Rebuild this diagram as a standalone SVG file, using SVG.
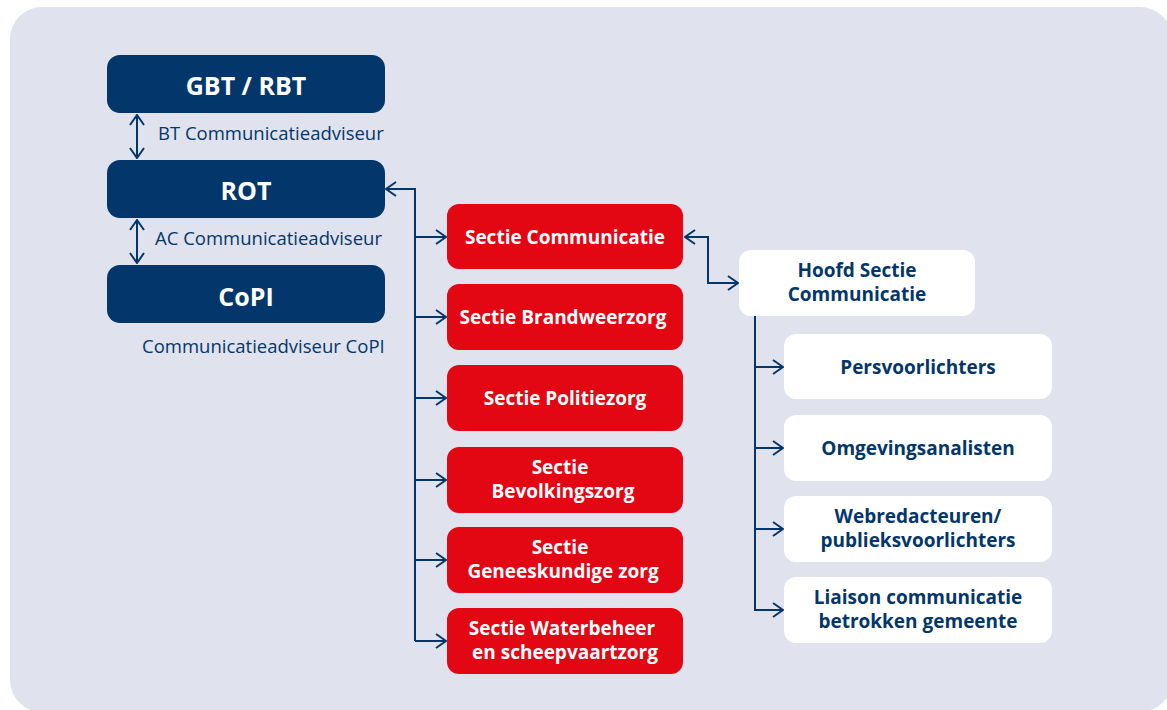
<svg xmlns="http://www.w3.org/2000/svg" width="1167" height="710" viewBox="0 0 1167 710">
<style>
.navy{fill:#03366b}
.red{fill:#e30613}
.white{fill:#ffffff}
.t{font-family:"Open Sans","Noto Sans","Liberation Sans",sans-serif;font-weight:700;text-anchor:middle;font-size:19px}
.big{font-size:25px}
.tw{fill:#ffffff}
.tn{fill:#03366b}
.lbl{font-family:"Open Sans","Noto Sans","Liberation Sans",sans-serif;font-weight:400;font-size:18.5px;fill:#03366b}
.ln{fill:none;stroke:#03366b;stroke-width:2}
</style>
<defs>
<marker id="ah" viewBox="0 0 12 16" refX="11" refY="8" markerWidth="12" markerHeight="16" markerUnits="userSpaceOnUse" orient="auto-start-reverse">
<path d="M1,1 L11,8 L1,15" fill="none" stroke="#03366b" stroke-width="2"/>
</marker>
</defs>
<rect x="10" y="7" width="1162" height="705" rx="32" fill="#e0e3ee"/>

<g id="connectors">
<line class="ln" x1="137" y1="115" x2="137" y2="158" marker-start="url(#ah)" marker-end="url(#ah)"/>
<line class="ln" x1="137" y1="220" x2="137" y2="263" marker-start="url(#ah)" marker-end="url(#ah)"/>
<polyline class="ln" points="415,641 415,189 386,189" marker-end="url(#ah)"/>
<line class="ln" x1="415" y1="237" x2="446" y2="237" marker-end="url(#ah)"/>
<line class="ln" x1="415" y1="317" x2="446" y2="317" marker-end="url(#ah)"/>
<line class="ln" x1="415" y1="398" x2="446" y2="398" marker-end="url(#ah)"/>
<line class="ln" x1="415" y1="480" x2="446" y2="480" marker-end="url(#ah)"/>
<line class="ln" x1="415" y1="560" x2="446" y2="560" marker-end="url(#ah)"/>
<line class="ln" x1="415" y1="641" x2="446" y2="641" marker-end="url(#ah)"/>
<polyline class="ln" points="685,237 708,237 708,283 738,283" marker-start="url(#ah)" marker-end="url(#ah)"/>
<line class="ln" x1="755" y1="316" x2="755" y2="611"/>
<line class="ln" x1="755" y1="367" x2="783" y2="367" marker-end="url(#ah)"/>
<line class="ln" x1="755" y1="448" x2="783" y2="448" marker-end="url(#ah)"/>
<line class="ln" x1="755" y1="529" x2="783" y2="529" marker-end="url(#ah)"/>
<line class="ln" x1="755" y1="610" x2="783" y2="610" marker-end="url(#ah)"/>
</g>

<g id="lbl-bt"><text class="lbl" x="158" y="140">BT Communicatieadviseur</text></g>
<g id="lbl-ac"><text class="lbl" x="155" y="245">AC Communicatieadviseur</text></g>
<g id="lbl-copi"><text class="lbl" x="142" y="353">Communicatieadviseur CoPI</text></g>

<g id="gbt"><rect class="navy" x="107" y="55" width="278" height="58" rx="13"/><text class="t big tw" x="246" y="95">GBT / RBT</text></g>
<g id="rot"><rect class="navy" x="107" y="160" width="278" height="58" rx="13"/><text class="t big tw" x="246" y="200">ROT</text></g>
<g id="copi"><rect class="navy" x="107" y="265" width="278" height="58" rx="13"/><text class="t big tw" x="246" y="306">CoPI</text></g>

<g id="s-comm"><rect class="red" x="447" y="204" width="236" height="65" rx="12"/><text class="t tw" x="565" y="244">Sectie Communicatie</text></g>
<g id="s-brand"><rect class="red" x="447" y="284" width="236" height="66" rx="12"/><text class="t tw" x="563" y="324">Sectie Brandweerzorg</text></g>
<g id="s-pol"><rect class="red" x="447" y="365" width="236" height="66" rx="12"/><text class="t tw" x="565" y="405">Sectie Politiezorg</text></g>
<g id="s-bev"><rect class="red" x="447" y="447" width="236" height="66" rx="12"/><text class="t tw" x="560" y="474">Sectie</text><text class="t tw" x="563" y="498">Bevolkingszorg</text></g>
<g id="s-gen"><rect class="red" x="447" y="527" width="236" height="66" rx="12"/><text class="t tw" x="560" y="554">Sectie</text><text class="t tw" x="563" y="578">Geneeskundige zorg</text></g>
<g id="s-wat"><rect class="red" x="447" y="608" width="236" height="66" rx="12"/><text class="t tw" x="562" y="635">Sectie Waterbeheer</text><text class="t tw" x="565" y="659">en scheepvaartzorg</text></g>

<g id="hoofd"><rect class="white" x="739" y="250" width="236" height="66" rx="12"/><text class="t tn" x="857" y="277">Hoofd Sectie</text><text class="t tn" x="857" y="301">Communicatie</text></g>
<g id="pers"><rect class="white" x="784" y="334" width="268" height="65" rx="12"/><text class="t tn" x="918" y="374">Persvoorlichters</text></g>
<g id="omg"><rect class="white" x="784" y="415" width="268" height="66" rx="12"/><text class="t tn" x="918" y="455">Omgevingsanalisten</text></g>
<g id="web"><rect class="white" x="784" y="496" width="268" height="66" rx="12"/><text class="t tn" x="918" y="523">Webredacteuren/</text><text class="t tn" x="918" y="547">publieksvoorlichters</text></g>
<g id="liaison"><rect class="white" x="784" y="577" width="268" height="66" rx="12"/><text class="t tn" x="918" y="604">Liaison communicatie</text><text class="t tn" x="918" y="628">betrokken gemeente</text></g>
</svg>
